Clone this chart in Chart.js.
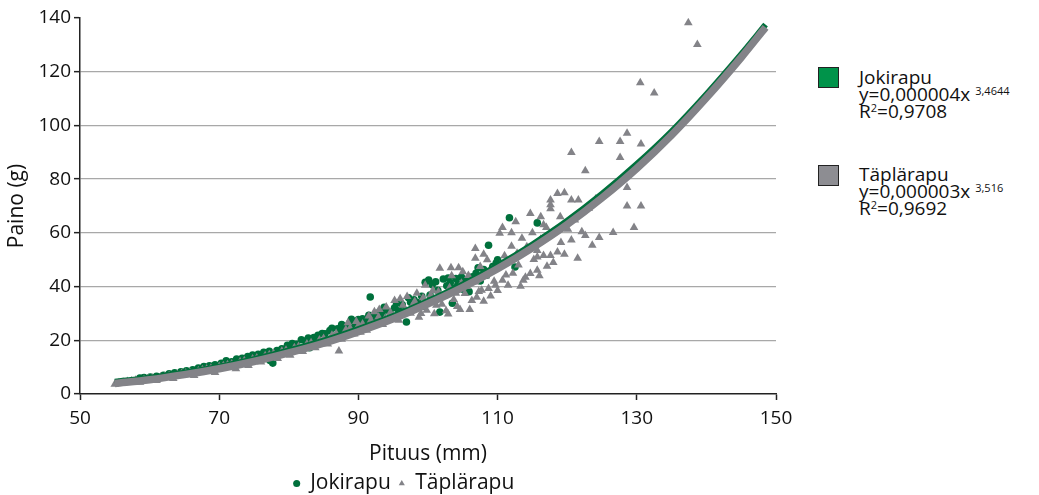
<!DOCTYPE html>
<html><head><meta charset="utf-8">
<script src="https://cdn.jsdelivr.net/npm/chart.js@4"></script>
<style>
body{margin:0;background:#fff;font-family:"Open Sans",sans-serif;}
#wrap{position:relative;width:1039px;height:495px;overflow:hidden;}
#cbox{position:absolute;left:0;top:0;width:808px;height:495px;}
.sq{position:absolute;width:19px;height:19px;border:1.5px solid #222;}
.txt{position:absolute;font-size:19px;line-height:17px;color:#111;white-space:nowrap;}
.sp{font-size:11px;position:relative;top:-6px;line-height:0;}
.sp2{font-size:11px;position:relative;top:-6px;line-height:0;}
</style></head>
<body>
<div id="wrap">
<div id="cbox"><canvas id="c"></canvas></div>
<div class="sq" style="left:818px;top:67px;background:#00934a;"></div>
<div class="txt" style="left:859px;top:69px;">Jokirapu<br>y=0,000004x <span class="sp">3,4644</span><br>R<span class="sp2">2</span>=0,9708</div>
<div class="sq" style="left:818px;top:165px;background:#8d8d92;"></div>
<div class="txt" style="left:859px;top:166px;">Täplärapu<br>y=0,000003x <span class="sp">3,516</span><br>R<span class="sp2">2</span>=0,9692</div>
</div>
<script>
const xTicks = [50, 70, 90, 110, 130, 150];
const yTicks = [0, 20, 40, 60, 80, 100, 120, 140];

const jokiX = [58.6,59.2,60.1,61.0,62.0,62.8,63.6,64.5,65.3,66.2,67.0,67.8,68.6,69.4,70.3,71.0,71.8,72.5,73.3,74.1,74.8,75.6,76.4,77.2,77.7,78.3,79.0,79.8,80.5,81.1,81.8,82.4,83.0,83.6,84.2,84.6,85.2,85.9,86.5,87.0,87.6,88.2,88.8,89.4,90.0,90.6,91.1,91.7,92.3,92.9,93.4,94.0,94.6,95.2,95.8,96.3,96.9,97.5,98.0,98.6,99.1,99.6,100.1,100.6,101.1,101.7,102.2,102.7,103.2,103.8,104.3,104.8,105.4,105.9,106.4,106.9,107.5,108.0,108.7,109.3,110.0,111.7,112.5,115.7,60.5,66.6,73.8,80.0,88.0,94.3,99.4,77.3,
  81.5,82.8,84.8,86.2,87.3,89.0,90.3,91.5,93.7,95.5,96.6,97.2,98.3,100.3,101.4,102.9,104.0,105.0,107.2,108.4,109.8,103.5];
const jokiY = [5.9,6.1,6.3,6.6,7.0,7.5,7.9,8.3,8.6,9.0,9.7,10.2,10.5,10.9,11.4,12.4,12.0,13.0,13.3,13.9,14.5,14.8,15.5,15.9,11.5,16.2,16.8,18.1,18.8,18.5,20.2,19.7,17.2,21.0,21.9,19.0,22.4,23.6,21.5,24.3,25.9,25.2,26.7,25.8,27.7,28.0,26.9,36.1,28.9,30.2,29.3,31.3,30.0,32.1,31.0,33.2,26.8,34.2,35.1,34.0,36.4,41.6,42.4,40.7,41.8,30.5,42.8,40.3,41.4,39.4,40.9,43.5,42.2,38.1,43.6,44.9,42.1,46.3,55.4,47.5,50.0,65.6,47.3,63.7,5.5,8.4,12.6,15.7,23.8,27.9,32.7,12.5,
  17.0,20.8,22.5,24.5,22.6,27.8,25.9,29.3,32.3,33.8,30.6,35.8,32.8,36.8,38.6,43.2,43.0,39.0,47.0,44.2,48.8,33.8];

const taplaX = [55.0,55.6,56.2,56.8,57.4,58.0,58.6,59.2,59.8,60.4,61.0,61.6,62.2,62.8,63.4,64.0,64.6,65.2,65.8,66.4,67.0,67.6,68.2,68.8,69.4,70.0,70.6,71.2,71.8,72.4,73.0,73.6,74.2,74.8,75.4,76.0,76.6,77.2,77.8,78.4,79.0,79.6,80.2,80.8,81.4,82.0,82.6,83.2,83.8,84.4,85.0,85.6,86.2,86.8,87.2,87.6,88.2,88.8,89.4,90.0,90.6,91.2,91.8,92.3,92.9,93.5,94.0,94.6,95.2,95.8,96.4,97.0,97.5,98.1,98.7,99.3,99.8,100.4,100.9,101.5,102.0,102.6,103.1,103.7,104.2,104.8,105.3,105.8,106.3,106.8,107.3,107.7,108.3,108.7,109.2,109.7,110.3,110.7,110.7,111.2,111.7,112.2,112.6,112.8,113.3,113.7,114.2,114.7,114.7,115.2,115.7,115.7,115.7,116.2,116.6,116.6,117.1,117.6,117.6,117.6,117.6,118.1,118.6,118.6,119.1,119.6,119.6,120.1,120.6,120.6,120.6,121.1,121.6,122.1,122.6,122.6,123.1,123.6,124.1,124.6,124.6,126.6,127.6,127.6,128.6,128.6,128.6,129.6,130.6,130.6,130.5,132.5,137.4,138.7,101.7,106.8,106.8,110.3,104.4,
  88.5,89.7,90.3,91.5,93.0,93.8,95.0,96.0,96.8,97.8,98.4,99.0,100.0,100.7,101.2,102.3,102.9,103.4,104.0,104.6,105.0,105.6,106.0,107.0,107.5,108.0,108.5,109.0,109.5,110.0,111.0,111.5,112.0,113.0,113.5,114.0,115.0,116.0,117.0,118.0,119.0,121.5,116.2,112.0,108.0,99.6,103.3];
const taplaY = [3.6,4.2,4.4,4.7,4.8,5.1,4.4,5.4,5.6,5.9,5.0,6.3,6.5,6.8,5.8,7.3,7.6,7.8,8.1,6.9,8.7,9.0,9.3,9.6,8.0,10.2,10.5,10.9,11.2,9.4,12.0,12.4,10.6,13.0,13.4,11.9,14.2,14.6,15.1,13.2,15.9,16.3,14.4,17.2,17.7,15.8,18.6,19.1,17.2,20.1,20.7,18.6,21.9,22.5,16.0,20.4,23.9,24.5,22.3,25.4,26.1,23.7,27.5,30.6,28.7,25.9,32.4,30.3,34.8,27.5,33.0,36.3,30.1,34.4,28.6,35.8,31.2,36.9,29.9,38.1,33.4,31.0,39.6,35.2,32.6,41.2,37.4,44.1,34.8,41.7,38.2,38.6,43.9,39.3,46.3,40.5,47.8,42.4,62.0,44.3,49.6,45.0,64.1,52.4,40.1,42.4,54.8,44.9,67.2,50.1,46.1,51.0,53.4,57.6,51.6,63.0,47.6,51.6,69.0,70.5,72.2,60.2,52.9,74.7,56.4,52.0,74.9,61.3,57.3,72.2,89.9,64.8,72.2,60.4,59.0,83.1,69.2,55.4,72.6,58.3,94.0,60.1,88.1,94.0,97.1,76.9,70.0,62.0,70.0,93.1,115.9,112.1,138.2,130.1,46.8,54.2,50.5,59.9,47.0,
  26.5,27.0,23.0,29.0,31.5,28.0,29.0,35.5,31.0,33.0,37.5,30.0,34.0,38.5,33.0,36.5,29.8,44.0,37.5,31.5,45.5,40.0,31.5,36.0,47.5,34.5,50.0,36.5,42.0,38.5,51.5,40.5,55.0,48.0,58.0,43.5,60.0,44.0,62.0,49.0,66.0,50.5,66.0,60.0,52.0,40.5,47.0];

const trendX = [55,60,65,70,75,80,85,90,95,100,105,110,115,120,125,130,135,140,145,148.5];
const jokiTrend = [4.6,6.0,7.9,10.2,13.0,16.2,19.9,24.2,29.0,34.6,40.8,47.8,55.7,64.5,74.5,85.6,97.8,111.6,126.5,137.5];
const taplaTrend = [3.9,5.3,7.2,9.4,12.1,15.3,18.9,23.2,28.0,33.6,39.7,46.6,54.4,63.1,73.0,84.0,96.4,110.3,125.3,136.5];

const seriesNames = ['Jokirapu', 'Täplärapu'];
const GREEN = '#00703c', GRAY = '#838388';
const pts = (xs, ys) => xs.map((x, i) => ({x: x, y: ys[i]}));
const FONT = {family: '"Open Sans", sans-serif', size: 19};
const TFONT = {family: '"Open Sans", sans-serif', size: 21};

const shiftLegend = {
  id: 'shiftLegend',
  afterLayout(chart) {
    const lg = chart.legend;
    if (lg) { lg.left += 16; lg.right += 16; }
  }
};

new Chart(document.getElementById('c'), {
  type: 'scatter',
  data: {
    datasets: [
      {label: seriesNames[0], data: pts(jokiX, jokiY), pointStyle: 'circle', pointRadius: 3.8, backgroundColor: GREEN, borderColor: GREEN, borderWidth: 0, order: 3},
      {label: seriesNames[1], data: pts(taplaX, taplaY), pointStyle: 'triangle', pointRadius: 5, backgroundColor: GRAY, borderColor: GRAY, borderWidth: 0, order: 2},
      {label: 'trend1', data: pts(trendX, jokiTrend), showLine: true, pointRadius: 0, borderColor: GREEN, borderWidth: 6, cubicInterpolationMode: 'monotone', order: 1},
      {label: 'trend2', data: pts(trendX, taplaTrend), showLine: true, pointRadius: 0, borderColor: GRAY, borderWidth: 7.5, cubicInterpolationMode: 'monotone', order: 0}
    ]
  },
  plugins: [shiftLegend],
  options: {
    responsive: true, maintainAspectRatio: false, animation: false,
    layout: {padding: {left: 0, right: 32, top: 18, bottom: 0}},
    plugins: {
      tooltip: {enabled: false},
      legend: {
        position: 'bottom',
        maxHeight: 30,
        labels: {
          filter: (it) => it.datasetIndex < 2,
          sort: (a, b) => a.datasetIndex - b.datasetIndex,
          usePointStyle: true, boxWidth: 6, boxHeight: 5, padding: 8,
          color: '#111', font: TFONT
        }
      }
    },
    scales: {
      x: {
        type: 'linear', min: 50, max: 150,
        afterBuildTicks: (s) => { s.ticks = xTicks.map(v => ({value: v})); },
        afterFit: (s) => { s.height = 71; },
        ticks: {color: '#111', font: FONT, padding: 7, maxRotation: 0},
        grid: {drawOnChartArea: false, drawTicks: true, tickLength: 6, tickColor: '#222', tickWidth: 1.5},
        border: {display: true, color: '#222', width: 1.5},
        title: {display: true, text: 'Pituus (mm)', color: '#111', font: TFONT, padding: {top: 4, bottom: -2}}
      },
      y: {
        min: 0, max: 140,
        afterBuildTicks: (s) => { s.ticks = yTicks.map(v => ({value: v})); },
        afterFit: (s) => { s.width = 80; },
        ticks: {color: '#111', font: FONT, padding: 3},
        grid: {
          color: (c) => (c.tick && (c.tick.value === 140 || c.tick.value === 0)) ? 'rgba(0,0,0,0)' : '#a8a8a8',
          lineWidth: 1.3, drawTicks: true, tickLength: 6, tickColor: '#222', tickWidth: 1.5
        },
        border: {display: true, color: '#222', width: 1.5},
        title: {display: true, text: 'Paino (g)', color: '#111', font: TFONT, padding: {top: 4, bottom: 4}}
      }
    }
  }
});
</script>
</body></html>
